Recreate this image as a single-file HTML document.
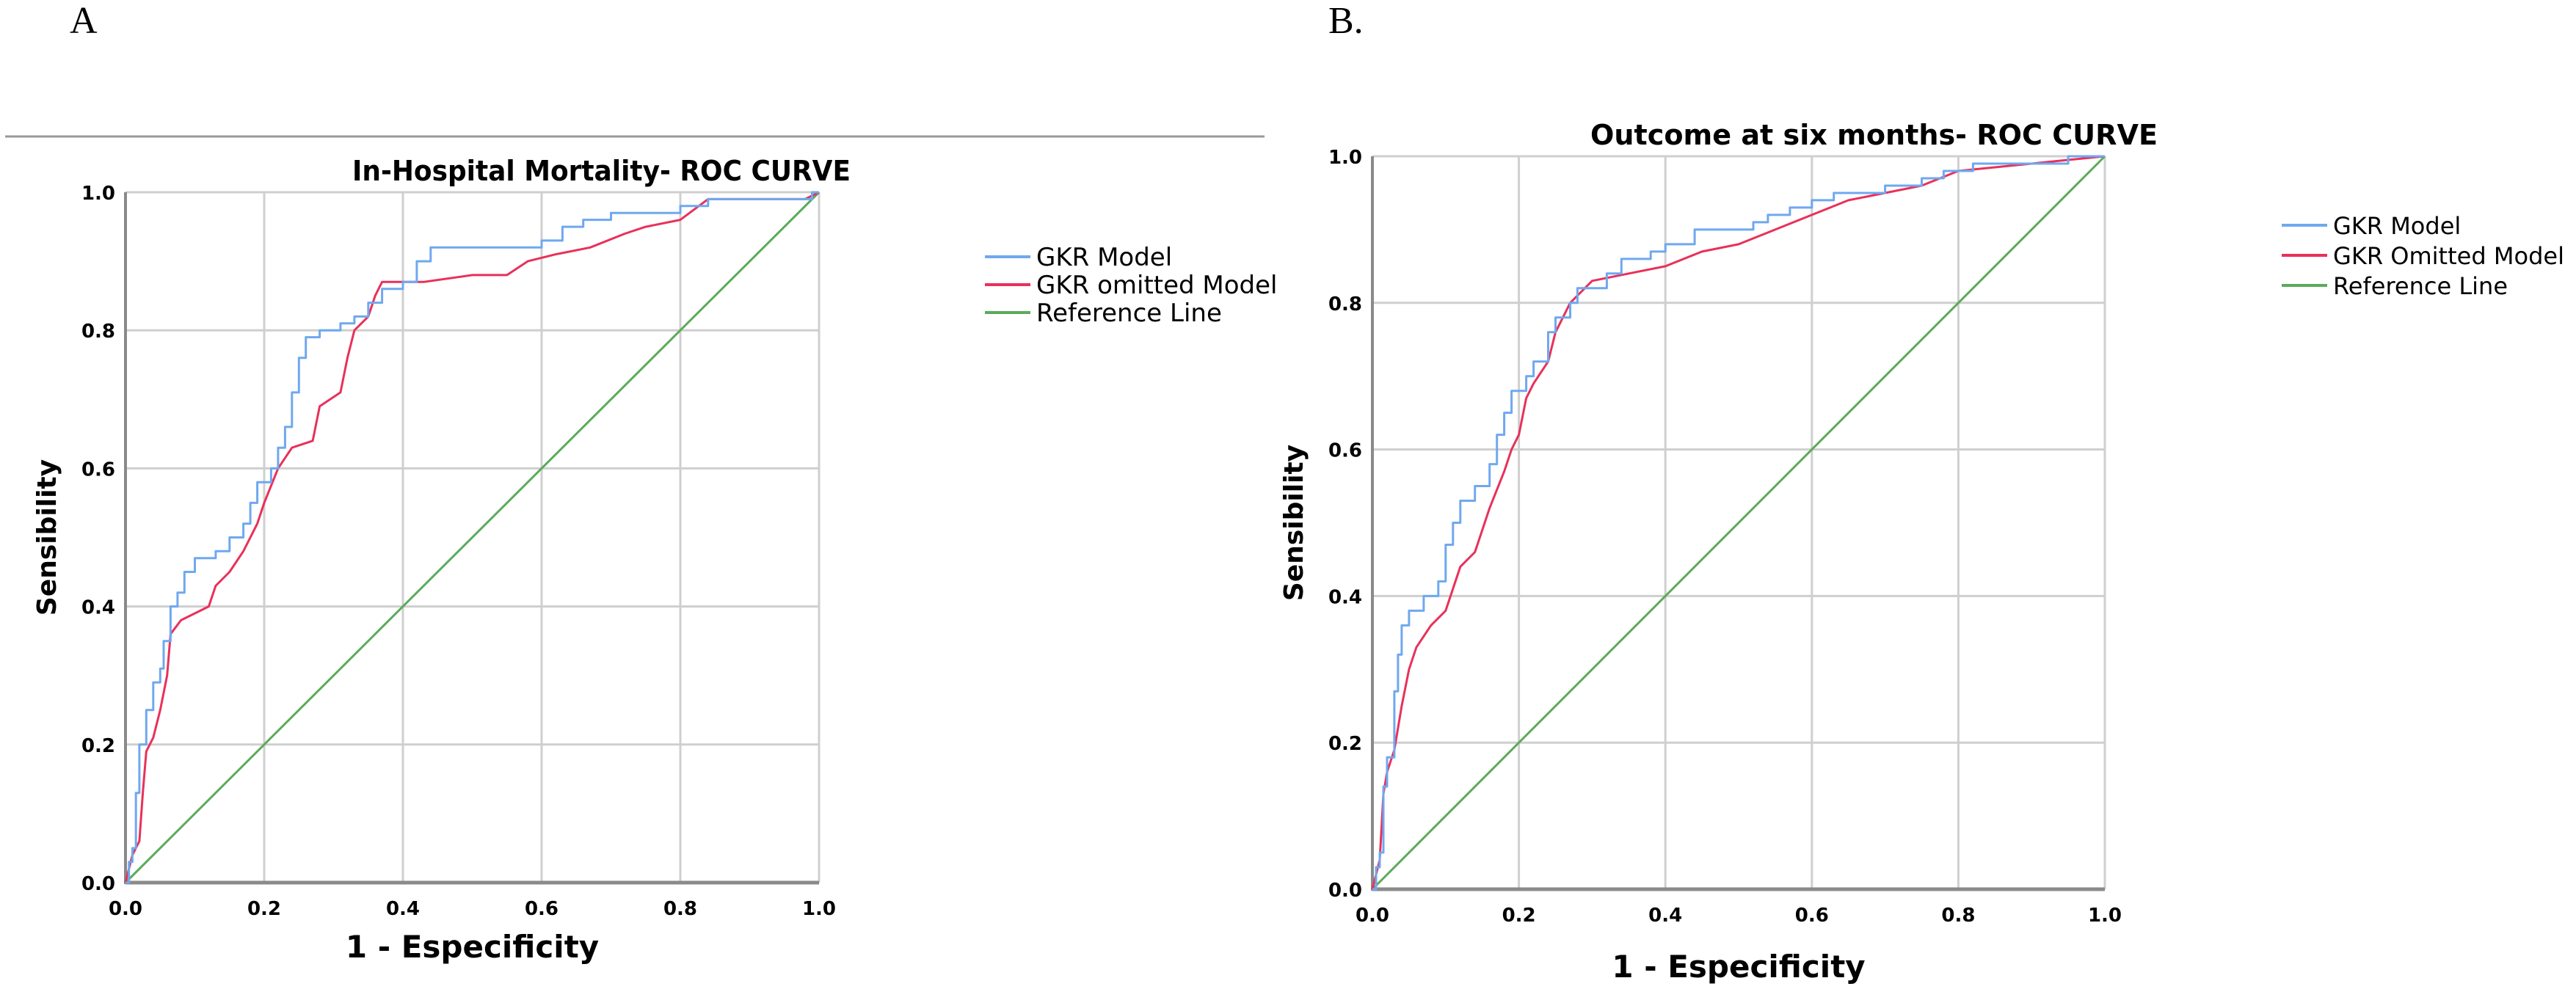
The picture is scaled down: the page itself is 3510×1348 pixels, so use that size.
<!DOCTYPE html>
<html><head><meta charset="utf-8"><style>
html,body{margin:0;padding:0;background:#fff;}
svg{display:block;}
text{font-family:"DejaVu Sans","Liberation Sans",sans-serif;}
text.serif{font-family:"Liberation Serif",serif;}
</style></head><body>
<svg id="root" width="3510" height="1348" viewBox="0 0 3510 1348" xmlns="http://www.w3.org/2000/svg">
<rect width="3510" height="1348" fill="#fff"/>
<text class="serif" x="95" y="45" font-size="52">A</text>
<text class="serif" x="1810" y="45" font-size="52">B.</text>
<line x1="7" y1="186" x2="1723" y2="186" stroke="#999" stroke-width="3"/>
<g id="chartA"></g>
<g id="chartB"></g>
</svg>
<script>
const ticks = [0, 0.2, 0.4, 0.6, 0.8, 1.0];
const tickLabels = ["0.0","0.2","0.4","0.6","0.8","1.0"];
const seriesNames = ["GKR Model","GKR omitted Model","Reference Line"];
const seriesNamesB = ["GKR Model","GKR Omitted Model","Reference Line"];
const refX = [0, 1];
const refY = [0, 1];
const aBlueX = [0,0.005,0.01,0.015,0.02,0.03,0.04,0.05,0.055,0.065,0.075,0.085,0.1,0.13,0.15,0.17,0.18,0.19,0.21,0.22,0.23,0.24,0.25,0.26,0.28,0.31,0.33,0.35,0.37,0.4,0.42,0.44,0.5,0.6,0.63,0.66,0.7,0.78,0.8,0.84,0.98,0.99,1];
const aBlueY = [0,0.03,0.05,0.13,0.2,0.25,0.29,0.31,0.35,0.4,0.42,0.45,0.47,0.48,0.5,0.52,0.55,0.58,0.6,0.63,0.66,0.71,0.76,0.79,0.8,0.81,0.82,0.84,0.86,0.87,0.9,0.92,0.92,0.93,0.95,0.96,0.97,0.97,0.98,0.99,0.99,1,1];
const aRedX = [0,0.01,0.02,0.025,0.03,0.04,0.05,0.06,0.065,0.08,0.1,0.12,0.13,0.15,0.17,0.19,0.2,0.22,0.24,0.27,0.28,0.31,0.32,0.33,0.35,0.36,0.37,0.43,0.5,0.55,0.58,0.62,0.67,0.72,0.75,0.8,0.84,0.98,1];
const aRedY = [0,0.04,0.06,0.13,0.19,0.21,0.25,0.3,0.36,0.38,0.39,0.4,0.43,0.45,0.48,0.52,0.55,0.6,0.63,0.64,0.69,0.71,0.76,0.8,0.82,0.85,0.87,0.87,0.88,0.88,0.9,0.91,0.92,0.94,0.95,0.96,0.99,0.99,1];
const bBlueX = [0,0.005,0.01,0.015,0.02,0.03,0.035,0.04,0.05,0.07,0.09,0.1,0.11,0.12,0.14,0.16,0.17,0.18,0.19,0.21,0.22,0.24,0.25,0.27,0.28,0.32,0.34,0.38,0.4,0.44,0.52,0.54,0.57,0.6,0.63,0.7,0.75,0.78,0.82,0.9,0.95,1];
const bBlueY = [0,0.03,0.05,0.14,0.18,0.27,0.32,0.36,0.38,0.4,0.42,0.47,0.5,0.53,0.55,0.58,0.62,0.65,0.68,0.7,0.72,0.76,0.78,0.8,0.82,0.84,0.86,0.87,0.88,0.9,0.91,0.92,0.93,0.94,0.95,0.96,0.97,0.98,0.99,0.99,1,1];
const bRedX = [0,0.01,0.015,0.02,0.03,0.04,0.05,0.06,0.08,0.1,0.12,0.14,0.16,0.18,0.19,0.2,0.21,0.22,0.24,0.25,0.27,0.3,0.35,0.4,0.45,0.5,0.55,0.6,0.65,0.7,0.75,0.8,0.9,1];
const bRedY = [0,0.04,0.13,0.16,0.19,0.25,0.3,0.33,0.36,0.38,0.44,0.46,0.52,0.57,0.6,0.62,0.67,0.69,0.72,0.76,0.8,0.83,0.84,0.85,0.87,0.88,0.9,0.92,0.94,0.95,0.96,0.98,0.99,1];

const NS = "http://www.w3.org/2000/svg";
function mk(parent, tag, attrs, txt){
  const el = document.createElementNS(NS, tag);
  for (const k in attrs) el.setAttribute(k, attrs[k]);
  if (txt !== undefined) el.textContent = txt;
  parent.appendChild(el);
  return el;
}
function drawChart(g, cfg){
  const sx = v => cfg.x0 + v * (cfg.x1 - cfg.x0);
  const sy = v => cfg.y0 - v * (cfg.y0 - cfg.y1);
  ticks.forEach((t, i) => {
    if (t > 0) {
      const gl = mk(g, "line", {x1: sx(t), y1: cfg.y1, x2: sx(t), y2: cfg.y0, stroke: "#cfcfcf", "stroke-width": 3});
      
      
      const hl = mk(g, "line", {x1: cfg.x0, y1: sy(t), x2: cfg.x1, y2: sy(t), stroke: "#cfcfcf", "stroke-width": 3});
      
      
    }
    const xl = mk(g, "text", {x: sx(t), y: cfg.y0 + 44, "text-anchor": "middle", "font-size": 26, "font-weight": "bold"}, tickLabels[i]);
    
    
    const yl = mk(g, "text", {x: cfg.x0 - 14, y: sy(t) + 10, "text-anchor": "end", "font-size": 26, "font-weight": "bold"}, tickLabels[i]);
    
    
  });
  const ya = mk(g, "line", {x1: cfg.x0, y1: cfg.y1, x2: cfg.x0, y2: cfg.y0 + 2, stroke: "#8a8a8a", "stroke-width": 4});
  
  
  const xa = mk(g, "line", {x1: cfg.x0, y1: cfg.y0, x2: cfg.x1, y2: cfg.y0, stroke: "#8a8a8a", "stroke-width": 5});
  
  
  const line = (xs, ys, color, name, step) => {
    let d = "M" + sx(xs[0]).toFixed(1) + "," + sy(ys[0]).toFixed(1);
    for (let i = 1; i < xs.length; i++) {
      if (step) d += " L" + sx(xs[i]).toFixed(1) + "," + sy(ys[i-1]).toFixed(1);
      d += " L" + sx(xs[i]).toFixed(1) + "," + sy(ys[i]).toFixed(1);
    }
    const p = mk(g, "path", {d: d, fill: "none", stroke: color, "stroke-width": 3, "stroke-linejoin": "round"});
    
    
  };
  line(refX, refY, "#5bab5b", "reference-line", false);
  line(cfg.rx, cfg.ry, "#e8315a", "gkr-omitted-model-curve", false);
  line(cfg.bx, cfg.by, "#6fa8f0", "gkr-model-curve", true);
  const t = mk(g, "text", {x: cfg.titleX0, y: cfg.titleY, "font-size": 38, "font-weight": "bold", textLength: cfg.titleW, lengthAdjust: "spacingAndGlyphs"}, cfg.title);
  
  
  const xt = mk(g, "text", {x: (cfg.x0 + cfg.x1) / 2, y: cfg.xTitleY, "text-anchor": "middle", "font-size": 42, "font-weight": "bold"}, "1 - Especificity");
  
  
  const cy = (cfg.y0 + cfg.y1) / 2;
  const yt = mk(g, "text", {x: cfg.yTitleX, y: cy, "text-anchor": "middle", "font-size": 36, "font-weight": "bold", transform: "rotate(-90 " + cfg.yTitleX + " " + cy + ")"}, "Sensibility");
  
  
  const colors = ["#6fa8f0", "#e8315a", "#5bab5b"];
  cfg.names.forEach((n, i) => {
    const ly = cfg.legY + i * cfg.legDy;
    const ll = mk(g, "line", {x1: cfg.legX, y1: ly, x2: cfg.legX + 62, y2: ly, stroke: colors[i], "stroke-width": 4});
    
    
    const attrs = {x: cfg.legX + 70, y: ly + 12, "font-size": cfg.legFont};
    if (n.length > 15 && cfg.legMaxW) { attrs.textLength = cfg.legMaxW; attrs.lengthAdjust = "spacingAndGlyphs"; }
    const lt = mk(g, "text", attrs, n);
    
    
  });
}
drawChart(document.getElementById("chartA"), {
  x0: 171, x1: 1116, y0: 1203, y1: 262,
  bx: aBlueX, by: aBlueY, rx: aRedX, ry: aRedY,
  title: "In-Hospital Mortality- ROC CURVE", titleX0: 480, titleW: 679, titleY: 246,
  xTitleY: 1305, yTitleX: 76,
  names: seriesNames, legX: 1342, legY: 350, legDy: 38, legFont: 34, legMaxW: 0
});
drawChart(document.getElementById("chartB"), {
  x0: 1870, x1: 2868, y0: 1212, y1: 213,
  bx: bBlueX, by: bBlueY, rx: bRedX, ry: bRedY,
  title: "Outcome at six months- ROC CURVE", titleX0: 2167, titleW: 773, titleY: 197,
  xTitleY: 1332, yTitleX: 1775,
  names: seriesNamesB, legX: 3109, legY: 307, legDy: 41, legFont: 32, legMaxW: 315
});
</script>
</body></html>
